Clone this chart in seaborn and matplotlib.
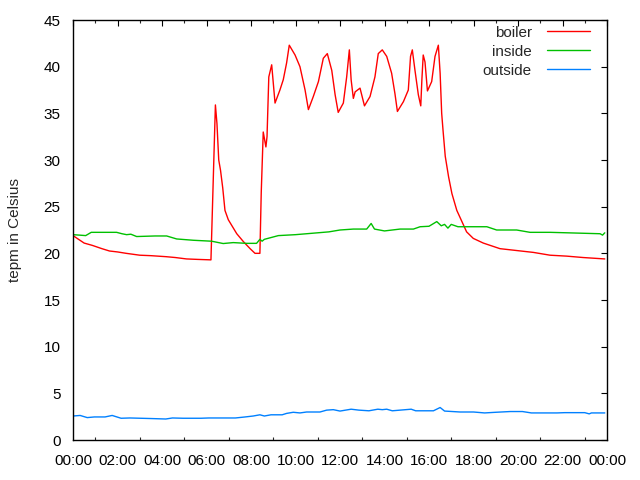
import matplotlib
matplotlib.use("Agg")
import matplotlib.pyplot as plt
import seaborn as sns
import pandas as pd
from matplotlib.ticker import MultipleLocator

# ---- data (hours of day, temperature in Celsius) ----
boiler_hours = [0, 0.5, 0.87, 1.3, 1.64, 2.0, 2.39, 3.0, 3.5, 4.19, 4.6, 5.1, 5.6, 6.2,
                6.4, 6.47, 6.55, 6.63, 6.73, 6.83, 6.98, 7.36, 7.66, 7.96, 8.18, 8.4,
                8.46, 8.55, 8.67, 8.72, 8.8, 8.93, 9.08, 9.3, 9.45, 9.6, 9.72, 9.98,
                10.2, 10.43, 10.58, 10.8, 11.03, 11.25, 11.43, 11.63, 11.78, 11.92,
                12.15, 12.3, 12.42, 12.5, 12.6, 12.68, 12.9, 13.1, 13.35, 13.57, 13.72,
                13.9, 14.1, 14.32, 14.47, 14.58, 14.85, 15.07, 15.17, 15.25, 15.37,
                15.52, 15.63, 15.68, 15.74, 15.82, 15.93, 16.12, 16.27, 16.42, 16.5,
                16.57, 16.63, 16.73, 16.88, 17.03, 17.25, 17.48, 17.69, 17.99, 18.44,
                19.19, 19.94, 20.69, 21.44, 22.19, 22.93, 23.9]
boiler_temp = [21.9, 21.1, 20.85, 20.5, 20.25, 20.15, 20.0, 19.8, 19.75, 19.64, 19.55, 19.4, 19.35, 19.3,
               35.9, 33.9, 30.0, 28.9, 27.0, 24.6, 23.6, 22.1, 21.25, 20.5, 20.0, 20.0,
               26.5, 33.0, 31.4, 32.5, 38.9, 40.2, 36.1, 37.5, 38.6, 40.4, 42.3, 41.25,
               40.0, 37.5, 35.4, 36.8, 38.4, 40.9, 41.4, 39.6, 37.0, 35.1,
               36.1, 38.9, 41.8, 38.6, 36.6, 37.3, 37.7, 35.8, 36.8, 38.9, 41.4,
               41.8, 41.1, 39.3, 37.1, 35.2, 36.25, 37.5, 41.1, 41.8, 39.6,
               37.0, 35.8, 38.6, 41.25, 40.5, 37.4, 38.4, 41.1, 42.3, 39.3,
               35.0, 33.2, 30.4, 28.2, 26.4, 24.6, 23.4, 22.3, 21.6, 21.1,
               20.5, 20.3, 20.1, 19.8, 19.7, 19.55, 19.4]

inside_hours = [0, 0.3, 0.57, 0.82, 1.96, 2.2, 2.41, 2.6, 2.86, 3.69, 4.21, 4.66, 5.41, 6.23,
                6.75, 7.2, 7.8, 8.25, 8.4, 8.5, 8.6, 9.23, 10.0, 10.5, 11.0, 11.5, 12.0,
                12.6, 13.2, 13.4, 13.55, 14.0, 14.7, 15.0, 15.3, 15.6, 16.0, 16.35,
                16.55, 16.7, 16.85, 17.0, 17.3, 18.6, 19.04, 19.94, 20.54, 21.44, 22.2,
                23.69, 23.8, 23.9]
inside_temp = [22.0, 21.95, 21.9, 22.25, 22.25, 22.1, 22.0, 22.05, 21.8, 21.86, 21.86, 21.54, 21.4, 21.3,
               21.05, 21.15, 21.07, 21.07, 21.5, 21.3, 21.5, 21.9, 22.0, 22.1, 22.2, 22.3, 22.5,
               22.6, 22.6, 23.2, 22.6, 22.4, 22.6, 22.6, 22.6, 22.85, 22.9, 23.4,
               22.95, 23.1, 22.7, 23.1, 22.85, 22.85, 22.5, 22.5, 22.25, 22.25, 22.2,
               22.1, 21.95, 22.2]

outside_hours = [0, 0.32, 0.64, 0.96, 1.44, 1.76, 2.16, 2.56, 3.5, 4.17, 4.47, 4.95, 5.75, 6.1,
                 7.3, 7.7, 8.1, 8.4, 8.6, 8.9, 9.4, 9.6, 9.9, 10.2, 10.5, 10.8, 11.1, 11.4,
                 11.7, 12.0, 12.5, 12.85, 13.3, 13.7, 13.9, 14.1, 14.35, 15.2, 15.4, 16.2,
                 16.5, 16.7, 17.4, 18.0, 18.5, 19.0, 19.65, 20.2, 20.6, 21.1, 21.75, 22.1,
                 23.0, 23.2, 23.3, 23.9]
outside_temp = [2.57, 2.63, 2.4, 2.47, 2.47, 2.63, 2.33, 2.36, 2.3, 2.25, 2.36, 2.33, 2.33, 2.36,
                2.36, 2.46, 2.57, 2.7, 2.57, 2.7, 2.7, 2.85, 2.97, 2.9, 3.0, 3.0, 3.0, 3.2,
                3.25, 3.1, 3.3, 3.2, 3.13, 3.3, 3.25, 3.3, 3.13, 3.3, 3.13, 3.13,
                3.48, 3.1, 3.0, 3.0, 2.9, 2.97, 3.05, 3.05, 2.9, 2.9, 2.9, 2.93,
                2.93, 2.8, 2.9, 2.9]

series_names = ["boiler", "inside", "outside"]
series_colors = ["#ff0000", "#00c000", "#0080ff"]
x_tick_hours = [0, 2, 4, 6, 8, 10, 12, 14, 16, 18, 20, 22, 24]
x_tick_labels = ["00:00", "02:00", "04:00", "06:00", "08:00", "10:00", "12:00",
                 "14:00", "16:00", "18:00", "20:00", "22:00", "00:00"]
y_ticks = [0, 5, 10, 15, 20, 25, 30, 35, 40, 45]
y_label = "tepm in Celsius"

df = pd.concat([
    pd.DataFrame({"hour": boiler_hours, "temp": boiler_temp, "series": "boiler"}),
    pd.DataFrame({"hour": inside_hours, "temp": inside_temp, "series": "inside"}),
    pd.DataFrame({"hour": outside_hours, "temp": outside_temp, "series": "outside"}),
], ignore_index=True)

sns.set_style("white")
plt.rcParams["font.family"] = ["Liberation Sans", "DejaVu Sans"]
plt.rcParams["font.size"] = 11

fig = plt.figure(figsize=(6.4, 4.8), dpi=100)
ax = fig.add_axes([73 / 640, 40 / 480, 534 / 640, 420 / 480])

sns.lineplot(data=df, x="hour", y="temp", hue="series", hue_order=series_names,
             palette=dict(zip(series_names, series_colors)), estimator=None,
             sort=False, linewidth=1.0, ax=ax)

ax.set_xlim(0, 24)
ax.set_ylim(0, 45)
ax.set_xticks(x_tick_hours)
ax.set_xticklabels(x_tick_labels)
ax.xaxis.set_minor_locator(MultipleLocator(1))
ax.set_yticks(y_ticks)
ax.set_xlabel("")
ax.set_ylabel(y_label, fontsize=11)
ax.yaxis.set_label_coords(-51 / 534, 0.5)

for s in ax.spines.values():
    s.set_visible(True)
    s.set_color("black")
    s.set_linewidth(1.0)

ax.tick_params(axis="both", which="major", direction="in", length=4.5, width=0.8,
               top=True, right=True, labelsize=11, colors="black")
ax.tick_params(axis="y", which="major", pad=9)
ax.tick_params(axis="x", which="major", pad=10)
ax.tick_params(axis="x", which="minor", direction="in", length=2.3, width=0.8,
               top=True, bottom=True)
ax.tick_params(axis="y", which="minor", left=False, right=False)

leg = ax.legend(loc="upper right", bbox_to_anchor=(0.981, 1.003), frameon=False,
                markerfirst=False, handlelength=2.8, handletextpad=1.0,
                labelspacing=0.33, borderaxespad=0.05, fontsize=11)

fig.savefig("out.png", dpi=100)
